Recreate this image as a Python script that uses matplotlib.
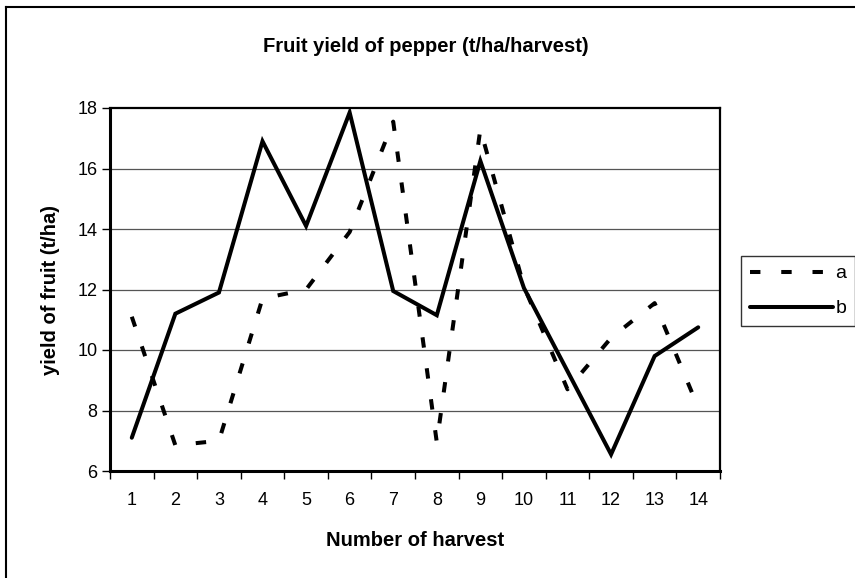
import matplotlib
matplotlib.use("Agg")
import matplotlib.pyplot as plt
from matplotlib.lines import Line2D
import numpy as np

plt.rcParams['font.family'] = ['Liberation Sans', 'DejaVu Sans']
plt.rcParams['lines.scale_dashes'] = False

harvests = list(range(1, 15))
tick_labels = [str(h) for h in harvests]
series_a = [11.1, 6.85, 7.0, 11.7, 12.0, 13.9, 17.55, 6.95, 17.3, 12.1, 8.7, 10.4, 11.55, 8.1]
series_b = [7.1, 11.2, 11.9, 16.9, 14.1, 17.85, 11.95, 11.15, 16.25, 12.05, 9.3, 6.55, 9.8, 10.75]
y_ticks = [6, 8, 10, 12, 14, 16, 18]

W, H = 855, 578
fig = plt.figure(figsize=(W / 100, H / 100), dpi=100)
ax = fig.add_axes([110 / W, 1 - 471 / H, (720 - 110) / W, (471 - 108) / H])

for y in y_ticks[1:-1]:
    ax.axhline(y, color='#555555', lw=0.9, zorder=1)

ax.plot(harvests, series_a, color='black', lw=2.9, dashes=(7.5, 15), dash_capstyle='butt',
        label='a', zorder=3)
ax.plot(harvests, series_b, color='black', lw=2.9, solid_capstyle='round', solid_joinstyle='miter',
        label='b', zorder=3)

ax.set_xlim(0.5, 14.5)
ax.set_ylim(6, 18)
ax.set_yticks(y_ticks)
ax.set_yticklabels([str(v) for v in y_ticks], fontsize=13)
ax.set_xticks(harvests)
ax.set_xticklabels(tick_labels, fontsize=13)
ax.set_xticks(np.arange(0.5, 15, 1), minor=True)
ax.tick_params(axis='x', which='major', length=0, pad=15)
ax.tick_params(axis='x', which='minor', length=6, width=1, direction='out')
ax.tick_params(axis='y', which='major', length=6, width=1, direction='out', pad=3)

for side in ['top', 'right']:
    ax.spines[side].set_linewidth(1.6)
for side in ['left', 'bottom']:
    ax.spines[side].set_linewidth(2.2)

fig.text(426 / W, 1 - 47 / H, 'Fruit yield of pepper (t/ha/harvest)', ha='center', va='center',
         fontsize=14.5, fontweight='bold')
fig.text(415 / W, 1 - 541 / H, 'Number of harvest', ha='center', va='center',
         fontsize=14.5, fontweight='bold')
fig.text(50 / W, 1 - 290 / H, 'yield of fruit (t/ha)', ha='center', va='center', rotation=90,
         fontsize=14.5, fontweight='bold')

leg = fig.legend(loc='upper left', bbox_to_anchor=(741 / W, 1 - 256 / H), frameon=True,
                 fancybox=False, edgecolor='black', fontsize=14, handlelength=4.3,
                 handletextpad=0.1, borderpad=0.45, labelspacing=0.9, borderaxespad=0)
leg.get_frame().set_linewidth(1.0)

# outer chart frame (left and top edges visible)
fig.add_artist(Line2D([6 / W, 6 / W], [0, 1 - 7 / H], color='black', lw=1.5,
                      transform=fig.transFigure))
fig.add_artist(Line2D([6 / W, 1], [1 - 7 / H, 1 - 7 / H], color='black', lw=1.5,
                      transform=fig.transFigure))

fig.savefig('out.png', dpi=100)
